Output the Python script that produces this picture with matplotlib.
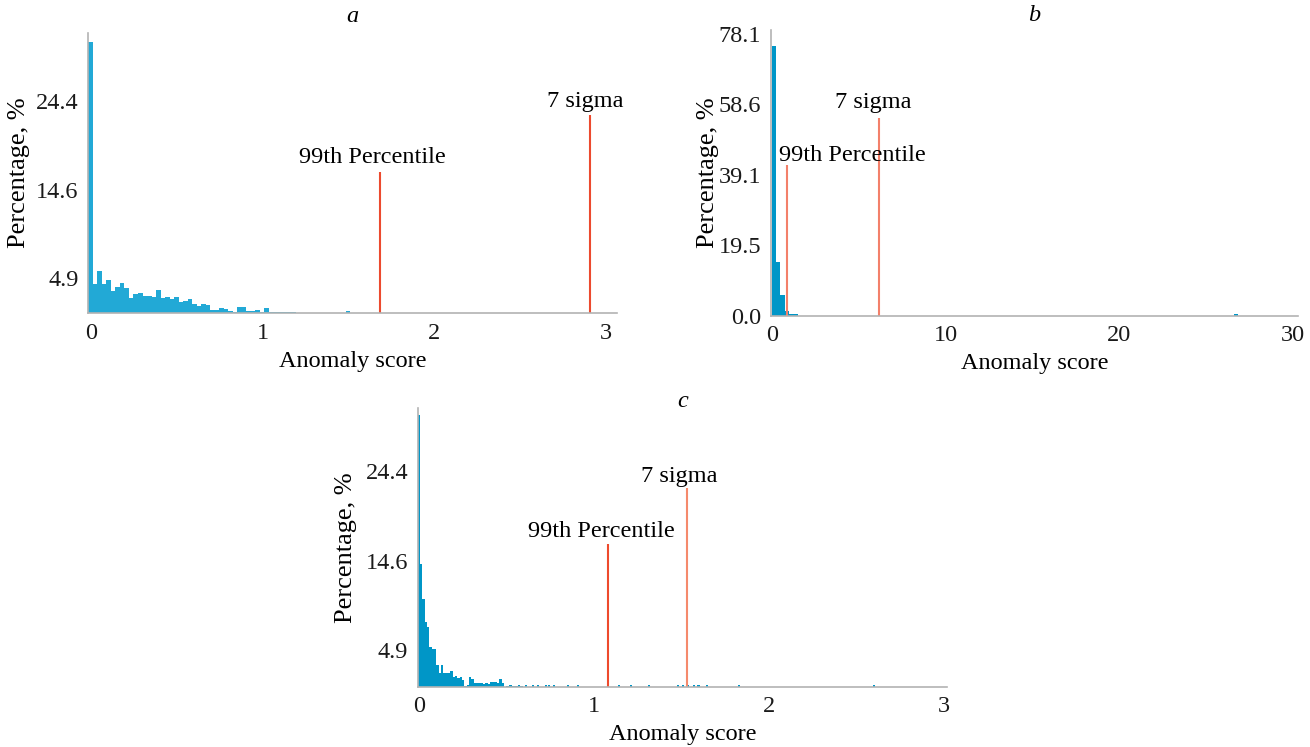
import numpy as np
import matplotlib
matplotlib.use("Agg")
import matplotlib.pyplot as plt

plt.rcParams['font.family'] = ['Liberation Serif', 'DejaVu Serif']

# panel a: histogram of anomaly scores (percent per bin)
width_a = 0.0263
start_a = -0.015
pct_a = [30.9, 4.28, 5.68, 4.28, 4.72, 3.55, 3.99, 4.39, 3.84, 2.70,
         3.18, 3.33, 3.00, 2.92, 2.89, 3.62, 2.70, 2.81, 2.63, 2.81,
         2.26, 2.45, 2.59, 2.07, 1.89, 2.07, 1.93, 1.41, 1.41, 1.60,
         1.49, 1.34, 1.23, 1.79, 1.71, 1.34, 1.27, 1.41, 1.16, 1.63,
         1.16, 1.23, 1.16, 1.16, 1.20, 1.20, 0, 0, 1.12, 1.08,
         0, 0, 1.08, 0, 1.12, 1.08, 1.12, 1.30, 0, 1.12,
         1.12, 1.12, 1.10, 1.10, 0, 1.10, 1.10, 0, 1.10, 1.10,
         0, 1.10, 1.10, 0, 1.10, 0, 0, 0, 1.10, 1.10,
         0, 0, 0, 0, 0, 1.10, 0, 0, 0, 0,
         1.10, 0, 0, 0, 0, 0, 0, 0, 0, 0, 1.10]
thr_a = [1.683, 2.906]
thr_top_a = [16.6, 22.9]

# panel b
width_b = 0.25
pct_b = [74.8, 14.8, 5.7, 1.4, 0.4, 0.4]
tail_b_score = [26.6]
tail_b_pct = [0.4]
thr_b = [0.90, 6.17]
thr_top_b = [41.8, 54.7]

# panel c
width_c = 0.01333
start_c = -0.0074
pct_c = [30.5, 14.3, 10.5, 7.9, 7.4, 5.26, 4.97, 4.97, 3.26, 2.43,
         3.26, 2.35, 2.43, 2.35, 2.65, 1.99, 2.06, 1.81, 1.99, 1.63,
         0.97, 1.08, 1.99, 1.70, 1.34, 1.27, 1.34, 1.27, 1.19, 1.27,
         1.19, 1.45, 1.45, 1.45, 1.27, 1.70, 1.27, 0, 1.02, 1.05,
         1.02, 1.02, 1.02, 1.02, 1.02]
tail_c_score = [0.52, 0.566, 0.606, 0.646, 0.674, 0.72, 0.737, 0.766, 0.846,
                0.903, 1.137, 1.206, 1.309, 1.474, 1.503, 1.531, 1.566, 1.589,
                1.594, 1.64, 1.823, 2.594]
tail_c_pct = [1.06] * len(tail_c_score)
thr_c = [1.08, 1.53]
thr_top_c = [16.4, 22.5]

thr_names = ['99th Percentile', '7 sigma']
yticks_ac = [4.9, 14.6, 24.4]
yticks_b = [0.0, 19.5, 39.1, 58.6, 78.1]

FS = 17.5

fig = plt.figure(figsize=(13.1, 7.47), dpi=100)
ax_a = fig.add_axes([0.0674, 0.5806, 0.4036, 0.3752])
ax_b = fig.add_axes([0.5885, 0.5774, 0.4023, 0.3825])
ax_c = fig.add_axes([0.3189, 0.0807, 0.4040, 0.3731])


def style(ax, xlim, ylim, yticks, title, title_y, ylab_x, xlab_y):
    ax.set_xlim(*xlim)
    ax.set_ylim(*ylim)
    ax.set_yticks(yticks)
    ax.set_yticklabels(['%.1f' % v for v in yticks])
    for s in ['top', 'right']:
        ax.spines[s].set_visible(False)
    for s in ['left', 'bottom']:
        ax.spines[s].set_color('#b3b3b3')
        ax.spines[s].set_linewidth(1.2)
    ax.tick_params(length=0, labelsize=FS, colors='#1a1a1a')
    ax.tick_params(axis='x', pad=7)
    ax.tick_params(axis='y', pad=7)
    ax.set_xlabel('Anomaly score', fontsize=FS)
    ax.set_ylabel('Percentage, %', fontsize=19)
    ax.xaxis.set_label_coords(0.5, xlab_y)
    ax.yaxis.set_label_coords(ylab_x, 0.5)
    ax.text(0.5, title_y, title, transform=ax.transAxes, ha='center',
            va='center', fontsize=FS, style='italic')


def thresholds(ax, xs, tops, colors, offsets, has):
    for x, t, c, name, (dx, dy), ha in zip(xs, tops, colors, thr_names, offsets, has):
        ax.vlines(x, 0, t, color=c, linewidth=1.5)
        ax.annotate(name, xy=(x, t), xytext=(dx, dy), textcoords='offset pixels',
                    ha=ha, va='baseline', fontsize=FS)


# a
edges_a = start_a + np.arange(len(pct_a)) * width_a
ax_a.bar(edges_a, pct_a, width=width_a, align='edge', color='#22a9d6', linewidth=0)
thresholds(ax_a, thr_a, thr_top_a, ['#ec4a2e', '#ec4a2e'], [(-8, 9), (-5, 8)],
           ['center', 'center'])
style(ax_a, (start_a, 3.063), (1.047, 31.92), yticks_ac, 'a', 1.06, -0.110, -0.135)
ax_a.set_xticks([0, 1, 2, 3])

# b
edges_b = np.arange(len(pct_b)) * width_b
ax_b.bar(edges_b, pct_b, width=width_b, align='edge', color='#0096c7', linewidth=0)
ax_b.bar(tail_b_score, tail_b_pct, width=width_b, align='edge', color='#0096c7', linewidth=0)
thresholds(ax_b, thr_b, thr_top_b, ['#f3806a', '#f3806a'], [(-8, 4), (-6, 10)],
           ['left', 'center'])
style(ax_b, (-0.05, 30.3), (0, 79.2), yticks_b, 'b', 1.05, -0.099, -0.130)
ax_b.set_xticks([0, 10, 20, 30])

# c
edges_c = start_c + np.arange(len(pct_c)) * width_c
ax_c.bar(edges_c, pct_c, width=width_c, align='edge', color='#0096c7', linewidth=0)
ax_c.bar(tail_c_score, tail_c_pct, width=width_c, align='edge', color='#0096c7', linewidth=0)
thresholds(ax_c, thr_c, thr_top_c, ['#ee4a2c', '#f58a6c'], [(-7, 7), (-8, 6)],
           ['center', 'center'])
style(ax_c, (start_c, 3.017), (0.904, 31.26), yticks_ac, 'c', 1.025, -0.115, -0.135)
ax_c.set_xticks([0, 1, 2, 3])

fig.savefig('out.png', dpi=100)
